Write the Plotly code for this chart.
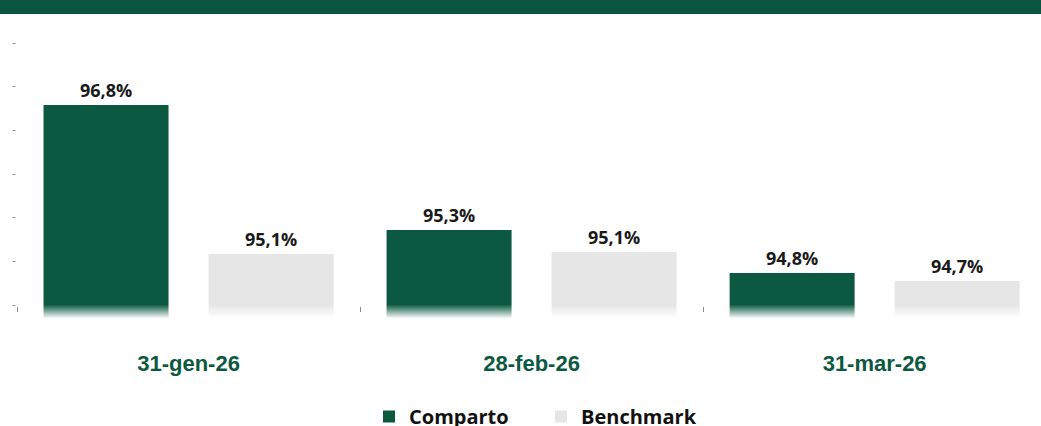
import plotly.graph_objects as go

# ---- data ----
categories = ["31-gen-26", "28-feb-26", "31-mar-26"]
comparto_values = [96.775, 95.344, 94.852]
benchmark_values = [95.069, 95.092, 94.760]
comparto_labels = ["96,8%", "95,3%", "94,8%"]
benchmark_labels = ["95,1%", "95,1%", "94,7%"]
y_tickvals = [94.5, 95.0, 95.5, 96.0, 96.5, 97.0, 97.5]
y_ticktext = ["-"] * len(y_tickvals)

GREEN = "#0b5940"
GREY = "#e6e6e6"

W, H = 1041, 426
ML, MR, MT, MB = 17, 0, 30, 107
plot_w = W - ML - MR
plot_h = H - MT - MB


def py2paper(py):
    return (H - MB - py) / plot_h


def px2paper(px):
    return (px - ML) / plot_w


fig = go.Figure()
fig.add_trace(go.Bar(
    name="Comparto", x=categories, y=comparto_values,
    marker=dict(color=GREEN, line=dict(width=0)),
    text=comparto_labels, textposition="outside", cliponaxis=False,
    textfont=dict(family="Open Sans", size=18, color="#1a1a1a", weight="bold"),
))
fig.add_trace(go.Bar(
    name="Benchmark", x=categories, y=benchmark_values,
    marker=dict(color=GREY, line=dict(width=0)),
    text=benchmark_labels, textposition="outside", cliponaxis=False,
    textfont=dict(family="Open Sans", size=18, color="#1a1a1a", weight="bold"),
))

shapes = []
# header bar
shapes.append(dict(type="rect", xref="paper", yref="paper",
                   x0=px2paper(0), x1=1.0,
                   y0=py2paper(14), y1=py2paper(0),
                   fillcolor="#0a5640", line=dict(width=0), layer="above"))
# fading bottom of bars (white overlay strips per category)
fade_top, fade_bot = 305, 319
n = fade_bot - fade_top
for i in range(len(categories)):
    for k in range(n):
        op = (k + 1) / n
        shapes.append(dict(type="rect", xref="x", yref="paper",
                           x0=i - 0.47, x1=i + 0.47,
                           y0=py2paper(fade_top + k + 1), y1=py2paper(fade_top + k),
                           fillcolor="white", opacity=op,
                           line=dict(width=0), layer="above"))

fig.update_layout(
    width=W, height=H,
    margin=dict(l=ML, r=MR, t=MT, b=MB, pad=0, autoexpand=False),
    paper_bgcolor="white", plot_bgcolor="white",
    barmode="group", bargap=0.038, bargroupgap=0.2424,
    showlegend=True,
    legend=dict(orientation="h", x=px2paper(369), xanchor="left",
                y=py2paper(397), yanchor="top",
                entrywidth=127, entrywidthmode="pixels",
                font=dict(family="Open Sans", size=20, color="#111111", weight="bold"),
                itemclick=False),
    shapes=shapes,
    xaxis=dict(
        range=[-0.5, 2.485], anchor="free", position=py2paper(306),
        showgrid=False, zeroline=False, showline=False, automargin=False,
        ticks="outside", tickson="boundaries", ticklen=5, tickwidth=1,
        tickcolor="#8c8c8c",
        tickfont=dict(family="Liberation Sans", size=22, color=GREEN, weight="bold"),
        ticklabelstandoff=42,
    ),
    yaxis=dict(
        range=[94.5 - 15.3 / 87.33, 97.5 + 11.7 / 87.33],
        showgrid=False, zeroline=False, showline=False, automargin=False,
        tickvals=y_tickvals, ticktext=y_ticktext, ticks="",
        tickfont=dict(family="Liberation Sans", size=11, color="#7f7f7f"),
    ),
)

fig.write_html("out.html")
